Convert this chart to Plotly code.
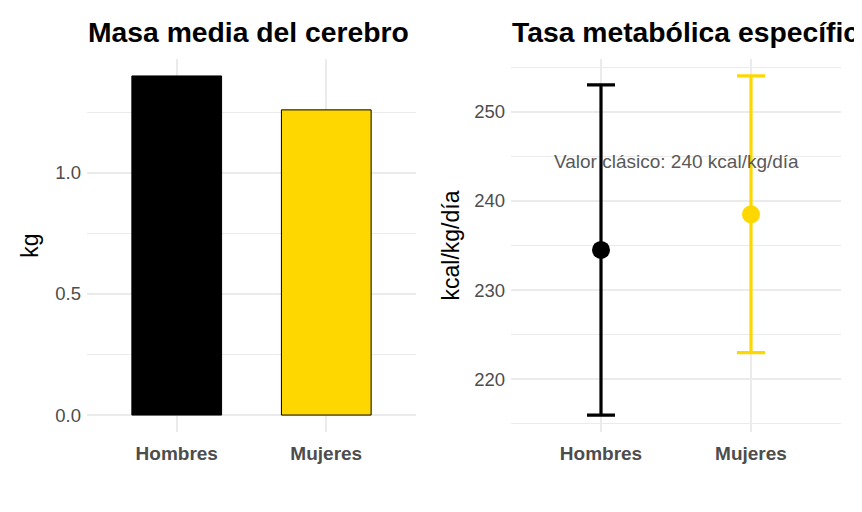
import plotly.graph_objects as go

categorias = ["Hombres", "Mujeres"]
masa_cerebro = [1.40, 1.26]
colores = ["#000000", "#FFD700"]
tasa_media = [234.5, 238.5]
tasa_min = [216, 223]
tasa_max = [253, 254]
valor_clasico = 240

# page body has an 8px margin; figure sized so it ends at the window edge
OFF = 8
W, H = 862 - OFF, 512 - OFF


def px_x(p):
    return (p - OFF) / W


def px_y(p):
    return 1 - (p - OFF) / H


fig = go.Figure()

fig.add_trace(go.Bar(
    x=categorias, y=masa_cerebro, width=0.6,
    marker=dict(color=colores, line=dict(color="black", width=1)),
    xaxis="x", yaxis="y", showlegend=False))

for i, c in enumerate(categorias):
    fig.add_trace(go.Scatter(
        x=[c], y=[tasa_media[i]], mode="markers",
        marker=dict(color=colores[i], size=18),
        error_y=dict(type="data", symmetric=False,
                     array=[tasa_max[i] - tasa_media[i]],
                     arrayminus=[tasa_media[i] - tasa_min[i]],
                     color=colores[i], thickness=3.2, width=14),
        xaxis="x2", yaxis="y2", showlegend=False))

grid = "#ebebeb"
tickfont = dict(family="Liberation Sans, Arial", size=18.5, color="#4d4d4d")
catfont = dict(family="Liberation Sans, Arial", size=19, color="#4d4d4d", weight="bold")
yd = [px_y(432), px_y(59)]

fig.update_layout(
    width=W, height=H, margin=dict(l=0, r=0, t=0, b=0),
    paper_bgcolor="white", plot_bgcolor="white",
    font=dict(family="Liberation Sans, Arial"),
    xaxis=dict(domain=[px_x(87), px_x(416)], range=[-0.6, 1.6], showgrid=True,
               gridcolor=grid, gridwidth=1.5, zeroline=False, tickfont=catfont,
               ticks="", ticklabelstandoff=8),
    yaxis=dict(domain=yd, range=[-0.07, 1.47], tickvals=[0, 0.5, 1.0],
               ticktext=["0.0", "0.5", "1.0"], gridcolor=grid, gridwidth=1.5,
               zeroline=False, tickfont=tickfont, ticks="", ticklabelstandoff=5,
               minor=dict(tickvals=[0.25, 0.75, 1.25], showgrid=True,
                          gridcolor=grid, gridwidth=0.8),
               title=dict(text="kg", font=dict(size=23, color="black"), standoff=10)),
    xaxis2=dict(domain=[px_x(511), px_x(841)], range=[-0.6, 1.6], showgrid=True,
                gridcolor=grid, gridwidth=1.5, zeroline=False, tickfont=catfont,
                ticks="", ticklabelstandoff=8, anchor="y2"),
    yaxis2=dict(domain=yd, range=[214.1, 255.9], tickvals=[220, 230, 240, 250],
                gridcolor=grid, gridwidth=1.5, zeroline=False, tickfont=tickfont,
                ticks="", ticklabelstandoff=5, anchor="x2",
                minor=dict(tickvals=[215, 225, 235, 245, 255], showgrid=True,
                           gridcolor=grid, gridwidth=0.8),
                title=dict(text="kcal/kg/día", font=dict(size=23, color="black"), standoff=8)),
)

fig.add_shape(type="line", xref="x2 domain", yref="y2", x0=0, x1=1,
              y0=valor_clasico, y1=valor_clasico,
              line=dict(color="#555555", width=1, dash="4px,3px"), layer="below")

fig.add_annotation(xref="x2", yref="y2", x=0.5, y=244.4,
                   text="Valor clásico: 240 kcal/kg/día", showarrow=False,
                   font=dict(size=19, color="#595959"))

fig.add_annotation(xref="paper", yref="paper", x=px_x(86), y=px_y(32),
                   xanchor="left", yanchor="middle", showarrow=False,
                   text="<b>Masa media del cerebro</b>",
                   font=dict(size=28.3, color="black"))
fig.add_annotation(xref="paper", yref="paper", x=px_x(510), y=px_y(32),
                   xanchor="left", yanchor="middle", showarrow=False,
                   text="<b>Tasa metabólica específica del cerebro</b>",
                   font=dict(size=28.3, color="black"))

fig.write_html("out.html")
